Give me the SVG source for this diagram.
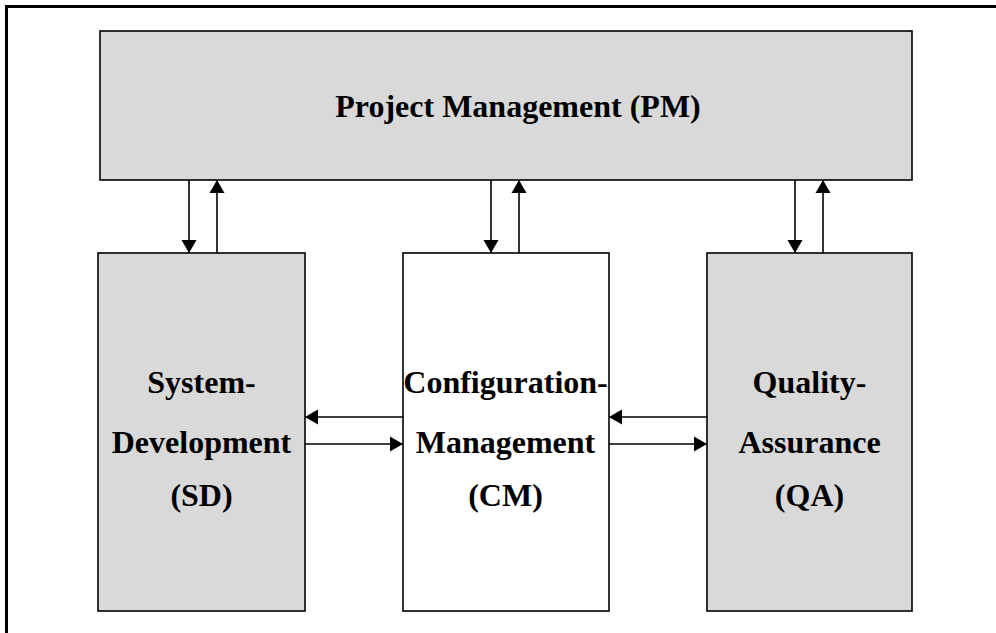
<svg xmlns="http://www.w3.org/2000/svg" width="996" height="633" viewBox="0 0 996 633">
<defs>
<style>
.box{stroke:#000;stroke-width:1.6}
.g{fill:#d9d9d9}
.w{fill:#fff}
.t{font-family:"Liberation Serif","Times New Roman",serif;font-weight:bold;font-size:32px;fill:#000;text-anchor:middle}
.c{stroke:#000;stroke-width:1.6;fill:none;marker-end:url(#ah)}
</style>
<marker id="ah" markerWidth="14" markerHeight="16" refX="13" refY="8" orient="auto" markerUnits="userSpaceOnUse"><path d="M0,0.5 L13,8 L0,15.5 z" fill="#000"/></marker>
</defs>
<rect width="996" height="633" fill="#fff"/>
<path d="M6.5,633 V6.5 H996" fill="none" stroke="#000" stroke-width="3"/>
<g id="pm"><rect class="box g" x="100" y="31" width="812" height="149"/><text class="t" x="518" y="117">Project Management (PM)</text></g>
<g id="sd"><rect class="box g" x="98" y="253" width="207" height="358"/><text class="t" x="201.5" y="393">System-</text><text class="t" x="201.5" y="453">Development</text><text class="t" x="201.5" y="506">(SD)</text></g>
<g id="cm"><rect class="box w" x="403" y="253" width="206" height="358"/><text class="t" x="505.5" y="393">Configuration-</text><text class="t" x="505.5" y="453">Management</text><text class="t" x="505.5" y="506">(CM)</text></g>
<g id="qa"><rect class="box g" x="707" y="253" width="205" height="358"/><text class="t" x="809.5" y="393">Quality-</text><text class="t" x="809.5" y="453">Assurance</text><text class="t" x="809.5" y="506">(QA)</text></g>
<g id="connectors">
<line class="c" x1="189" y1="180" x2="189" y2="253"/>
<line class="c" x1="217" y1="253" x2="217" y2="180"/>
<line class="c" x1="491" y1="180" x2="491" y2="253"/>
<line class="c" x1="519" y1="253" x2="519" y2="180"/>
<line class="c" x1="795" y1="180" x2="795" y2="253"/>
<line class="c" x1="823" y1="253" x2="823" y2="180"/>
<line class="c" x1="403" y1="417" x2="305" y2="417"/>
<line class="c" x1="305" y1="444" x2="403" y2="444"/>
<line class="c" x1="707" y1="417" x2="609" y2="417"/>
<line class="c" x1="609" y1="444" x2="707" y2="444"/>
</g>
</svg>
